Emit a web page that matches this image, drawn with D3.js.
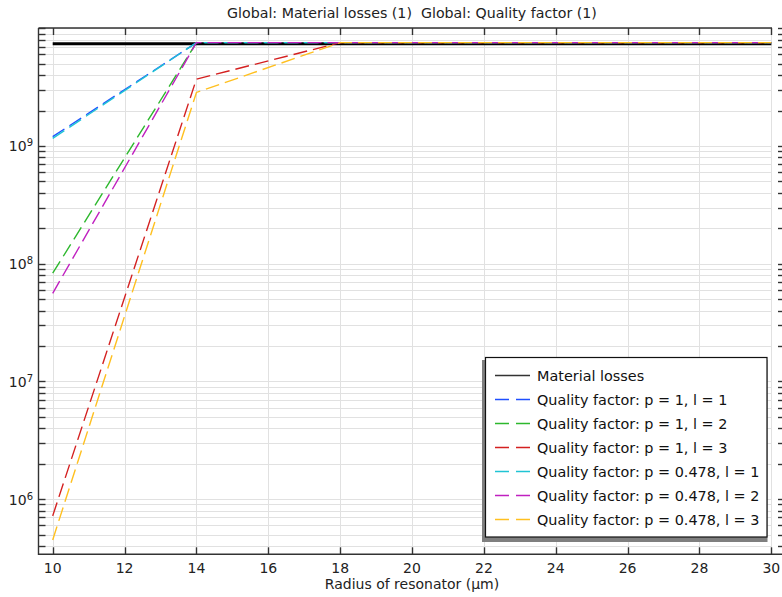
<!DOCTYPE html>
<html><head><meta charset="utf-8">
<script src="https://cdn.jsdelivr.net/npm/d3@7"></script>
<style>
body{margin:0;background:#fff;}
svg{display:block;font-family:"DejaVu Sans",sans-serif;}
text{white-space:pre;}
</style></head>
<body>
<svg id="chart" width="782" height="597"></svg>
<script>
// ---- data ----
const radius = [10, 14, 18, 22, 26, 30];
const materialLosses = [7.4e9, 7.4e9, 7.4e9, 7.4e9, 7.4e9, 7.4e9];
const qP1L1 = [1.2e9, 7.55e9, 7.55e9, 7.55e9, 7.55e9, 7.55e9];
const qP1L2 = [8.3e7, 7.55e9, 7.55e9, 7.55e9, 7.55e9, 7.55e9];
const qP1L3 = [7.2e5, 3.7e9, 7.55e9, 7.55e9, 7.55e9, 7.55e9];
const qP478L1 = [1.16e9, 7.55e9, 7.55e9, 7.55e9, 7.55e9, 7.55e9];
const qP478L2 = [5.6e7, 7.55e9, 7.55e9, 7.55e9, 7.55e9, 7.55e9];
const qP478L3 = [4.5e5, 2.85e9, 7.55e9, 7.55e9, 7.55e9, 7.55e9];
const xTicks = [10, 12, 14, 16, 18, 20, 22, 24, 26, 28, 30];
const yMajor = [1e6, 1e7, 1e8, 1e9];
const seriesNames = ["Material losses", "Quality factor: p = 1, l = 1", "Quality factor: p = 1, l = 2",
  "Quality factor: p = 1, l = 3", "Quality factor: p = 0.478, l = 1", "Quality factor: p = 0.478, l = 2",
  "Quality factor: p = 0.478, l = 3"];
const seriesValues = [materialLosses, qP1L1, qP1L2, qP1L3, qP478L1, qP478L2, qP478L3];
const seriesColors = ["#000000", "#1f4fff", "#2db82d", "#d42020", "#20c4d4", "#c020c0", "#ffc020"];
const titleText = "Global: Material losses (1)  Global: Quality factor (1)";
const xLabel = "Radius of resonator (µm)";

// ---- layout ----
const L = 38.5, T = 28, B = 554.3, R = 785, gridRight = 772;
const x = d3.scaleLinear().domain([9.605, 30.38]).range([L, R]);
const y = d3.scaleLog().domain([Math.pow(10, 5.531), Math.pow(10, 10.0025)]).range([B, T]);

const svg = d3.select("#chart");

// minor y tick values
const yAll = [];
for (let e = 5; e <= 10; e++) for (let m = 1; m <= 9; m++) {
  const v = m * Math.pow(10, e);
  if (v >= y.domain()[0] && v <= y.domain()[1]) yAll.push(v);
}

// grid
const grid = svg.append("g").attr("stroke", "#e1e1e1").attr("stroke-width", 1);
yAll.forEach(v => {
  const yy = Math.round(y(v)) + 0.5;
  grid.append("line").attr("x1", L).attr("x2", gridRight).attr("y1", yy).attr("y2", yy);
});
xTicks.forEach(v => {
  const xx = Math.round(x(v)) + 0.5;
  grid.append("line").attr("x1", xx).attr("x2", xx).attr("y1", T).attr("y2", B);
});

// series
const line = d3.line().x((d, i) => x(radius[i])).y(d => y(d));
seriesValues.forEach((vals, k) => {
  svg.append("path").datum(vals).attr("d", line).attr("fill", "none")
    .attr("stroke", seriesColors[k])
    .attr("stroke-width", k === 0 ? 3 : 1.4)
    .attr("stroke-dasharray", k === 0 ? null : "14,6");
});

// frame + ticks
const ax = svg.append("g").attr("stroke", "#333").attr("stroke-width", 1.4).attr("fill", "none");
ax.append("line").attr("x1", L).attr("x2", L).attr("y1", T).attr("y2", B + 0.7);
ax.append("line").attr("x1", L).attr("x2", gridRight).attr("y1", T).attr("y2", T);
ax.append("line").attr("x1", L).attr("x2", 782).attr("y1", B).attr("y2", B);
xTicks.forEach(v => {
  const xx = Math.round(x(v)) + 0.5;
  ax.append("line").attr("x1", xx).attr("x2", xx).attr("y1", T).attr("y2", T + 7);
  ax.append("line").attr("x1", xx).attr("x2", xx).attr("y1", B).attr("y2", B - 7);
});
yAll.forEach(v => {
  const yy = Math.round(y(v)) + 0.5;
  ax.append("line").attr("x1", L).attr("x2", L + 7).attr("y1", yy).attr("y2", yy);
  ax.append("line").attr("x1", R).attr("x2", R - 7).attr("y1", yy).attr("y2", yy);
});

// tick labels
const tl = svg.append("g").attr("fill", "#222").attr("font-size", 14);
xTicks.forEach(v => {
  tl.append("text").attr("x", x(v)).attr("y", 573).attr("text-anchor", "middle").text(v);
});
yMajor.forEach(v => {
  const e = Math.round(Math.log10(v));
  const t = tl.append("text").attr("x", 33).attr("y", y(v) + 5.5).attr("text-anchor", "end");
  t.append("tspan").text("10");
  t.append("tspan").attr("font-size", 10).attr("dy", -5).text(e);
});

// title + axis label
svg.append("text").attr("x", 412).attr("y", 17.5).attr("text-anchor", "middle")
  .attr("font-size", 14.2).attr("fill", "#222").text(titleText);
svg.append("text").attr("x", 412).attr("y", 589).attr("text-anchor", "middle")
  .attr("font-size", 14).attr("fill", "#222").text(xLabel);

// legend
const lg = svg.append("g");
lg.append("rect").attr("x", 482).attr("y", 360).attr("width", 285.5).attr("height", 182).attr("fill", "#7f7f7f");
lg.append("rect").attr("x", 485.5).attr("y", 357.5).attr("width", 281.5).attr("height", 179.5)
  .attr("fill", "#fff").attr("stroke", "#111").attr("stroke-width", 1.2);
seriesNames.forEach((name, k) => {
  const yy = 375.5 + k * 24;
  lg.append("line").attr("x1", 495).attr("x2", 530).attr("y1", yy).attr("y2", yy)
    .attr("stroke", k === 0 ? "#333" : seriesColors[k]).attr("stroke-width", 1.6)
    .attr("stroke-dasharray", k === 0 ? null : "14,7");
  lg.append("text").attr("x", 537).attr("y", yy + 5.5).attr("font-size", 14.4).attr("fill", "#111").text(name);
});
</script>
</body></html>
